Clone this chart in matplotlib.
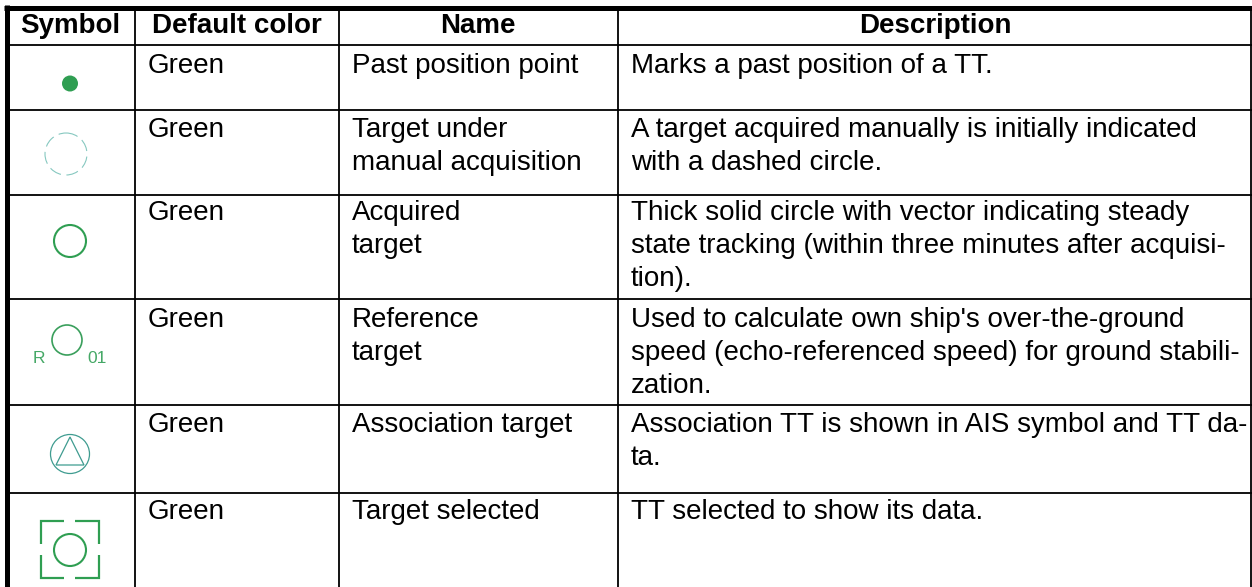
import matplotlib
matplotlib.use('Agg')
import matplotlib.pyplot as plt
from matplotlib.patches import Circle, Polygon

plt.rcParams['font.family'] = ['Liberation Sans', 'DejaVu Sans']

headers = ['Symbol', 'Default color', 'Name', 'Description']
default_colors = ['Green', 'Green', 'Green', 'Green', 'Green', 'Green']
names = ['Past position point',
         'Target under\nmanual acquisition',
         'Acquired\ntarget',
         'Reference\ntarget',
         'Association target',
         'Target selected']
descriptions = ['Marks a past position of a TT.',
                'A target acquired manually is initially indicated\nwith a dashed circle.',
                'Thick solid circle with vector indicating steady\nstate tracking (within three minutes after acquisi-\ntion).',
                "Used to calculate own ship's over-the-ground\nspeed (echo-referenced speed) for ground stabili-\nzation.",
                'Association TT is shown in AIS symbol and TT da-\nta.',
                'TT selected to show its data.']

col_x = [135, 339, 618]
col_centers = [70, 237, 478, 935]
row_y = [45, 110, 195, 299, 405, 493]
baselines = [73, 137, 220, 327, 432, 519]
line_step = 33
text_x = [148, 352, 631]
fs = 20.0
green = '#2f9e52'
teal = '#3f9c90'
pale = '#86c8c0'

fig = plt.figure(figsize=(12.52, 5.87), dpi=100)
ax = fig.add_axes([0, 0, 1, 1])
ax.set_xlim(0, 1252)
ax.set_ylim(587, 0)
ax.axis('off')

# table rules
ax.plot([4, 1252], [7.5, 7.5], color='black', lw=3.6, solid_capstyle='butt')
ax.plot([6.5, 6.5], [5, 587], color='black', lw=3.6, solid_capstyle='butt')
ax.plot([1251, 1251], [7, 587], color='black', lw=1.3, solid_capstyle='butt')
for x in col_x:
    ax.plot([x, x], [7, 587], color='black', lw=1.3, solid_capstyle='butt')
for y in row_y:
    ax.plot([8, 1252], [y, y], color='black', lw=1.3, solid_capstyle='butt')

for c, h in zip(col_centers, headers):
    ax.text(c, 33, h, ha='center', va='baseline', fontsize=fs, fontweight='bold', color='black')

for i, base in enumerate(baselines):
    for x, cell in zip(text_x, [default_colors[i], names[i], descriptions[i]]):
        # one text per line so the baselines stay put
        for k, line in enumerate(cell.split('\n')):
            ax.text(x, base + k * line_step, line, ha='left', va='baseline', fontsize=fs, color='black')

# symbols
ax.add_patch(Circle((70, 83.5), 8, fc=green, ec='none'))
ax.add_patch(Circle((66, 154), 21, fc='none', ec=pale, lw=0.8, ls=(0, (11, 5))))
ax.add_patch(Circle((70, 241), 16, fc='none', ec=green, lw=1.5))

ax.add_patch(Circle((67, 340), 15, fc='none', ec='#3a9f5c', lw=1.2))
ax.text(39, 363, 'R', ha='center', va='baseline', fontsize=12.5, color='#45a866')
ax.text(97, 363, '01', ha='center', va='baseline', fontsize=12.5, color='#45a866')

ax.add_patch(Circle((70, 454), 19.5, fc='none', ec=teal, lw=0.9))
ax.add_patch(Polygon([(70, 437), (56, 465), (84, 465)], closed=True, fc='none', ec=teal, lw=0.9))

ax.add_patch(Circle((70, 550), 16, fc='none', ec=green, lw=1.5))
for pts in [[(41, 544), (41, 521), (64, 521)], [(75, 521), (99, 521), (99, 544)],
            [(41, 555), (41, 578), (64, 578)], [(75, 578), (99, 578), (99, 555)]]:
    ax.plot([p[0] for p in pts], [p[1] for p in pts], color=green, lw=1.6,
            solid_joinstyle='miter', solid_capstyle='butt')

fig.savefig('out.png', dpi=100)
